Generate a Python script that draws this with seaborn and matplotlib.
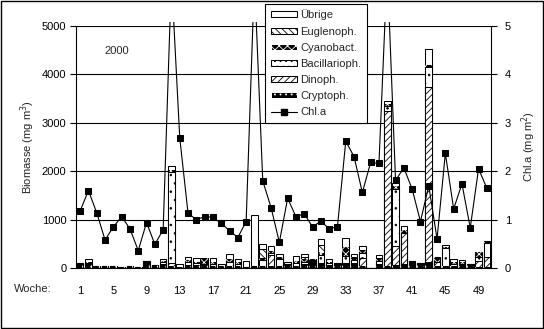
import numpy as np
import pandas as pd
import matplotlib
matplotlib.use("Agg")
import matplotlib.pyplot as plt
import seaborn as sns
from matplotlib.patches import Rectangle, Patch
from matplotlib.lines import Line2D

weeks = list(range(1, 51))
tick_weeks = [1, 5, 9, 13, 17, 21, 25, 29, 33, 37, 41, 45, 49]

crypto = [110, 110, 40, 35, 40, 15, 40, 30, 145, 70,
          80, 40, 25, 70, 60, 80, 50, 45, 50, 50,
          20, 40, 50, 40, 50, 60, 40, 90, 170, 100,
          60, 110, 100, 95, 40, 0, 60, 50, 60, 80,
          145, 95, 130, 40, 40, 50, 60, 85, 30, 25]
dino = [0, 0, 0, 0, 0, 0, 0, 0, 0, 0,
        0, 60, 0, 0, 0, 0, 0, 0, 0, 0,
        0, 0, 0, 220, 0, 0, 0, 0, 0, 0,
        0, 0, 0, 0, 170, 0, 30, 3200, 400, 640,
        0, 0, 3600, 80, 0, 0, 0, 0, 120, 210]
bacil = [0, 0, 0, 0, 0, 0, 0, 0, 0, 0,
         40, 1880, 0, 50, 40, 0, 40, 0, 80, 40,
         0, 0, 110, 60, 140, 20, 70, 40, 0, 170,
         40, 0, 140, 80, 100, 0, 60, 100, 1170, 0,
         0, 0, 420, 0, 370, 40, 30, 0, 80, 280]
cyano = [0, 20, 0, 0, 0, 0, 0, 0, 0, 0,
         20, 35, 0, 40, 30, 135, 40, 0, 50, 30,
         0, 0, 40, 40, 40, 0, 40, 60, 10, 30,
         30, 0, 200, 50, 60, 0, 50, 40, 60, 70,
         0, 0, 40, 110, 20, 40, 30, 0, 110, 15]
eugl = [0, 0, 0, 0, 0, 0, 0, 0, 0, 0,
        0, 0, 0, 0, 0, 0, 0, 0, 0, 0,
        0, 0, 200, 0, 0, 0, 0, 30, 0, 180,
        0, 0, 0, 0, 0, 0, 0, 0, 0, 0,
        0, 0, 0, 0, 0, 0, 0, 0, 0, 0]
uebrige = [0, 56, 0, 0, 0, 0, 0, 0, 0, 0,
           46, 100, 55, 75, 70, 0, 70, 30, 100, 60,
           125, 1060, 100, 95, 60, 50, 100, 63, 0, 110,
           50, 0, 175, 70, 80, 0, 70, 60, 70, 80,
           0, 0, 330, 0, 45, 50, 45, 0, 0, 30]
chla = [1.18, 1.60, 1.14, 0.58, 0.85, 1.06, 0.81, 0.36, 0.94, 0.49,
        0.79, 6.0, 2.69, 1.13, 1.00, 1.06, 1.05, 0.92, 0.77, 0.63,
        0.96, 6.0, 1.80, 1.25, 0.53, 1.44, 1.06, 1.12, 0.85, 0.97,
        0.81, 0.85, 2.62, 2.30, 1.56, 2.18, 2.16, 6.2, 1.81, 2.07,
        1.63, 0.96, 1.70, 0.60, 2.37, 1.22, 1.74, 0.83, 2.05, 1.65]

series_names = ["Cryptoph.", "Dinoph.", "Bacillarioph.", "Cyanobact.", "Euglenoph.", "Übrige"]
series_vals = [crypto, dino, bacil, cyano, eugl, uebrige]
styles = {
    "Cryptoph.": dict(face="black", edge="white", hatch="..", lw=0, leg="..."),
    "Dinoph.": dict(face="white", edge="black", hatch="/////", lw=0.75, leg="/////"),
    "Bacillarioph.": dict(face="white", edge="black", hatch="..", lw=0.75, leg="..."),
    "Cyanobact.": dict(face="black", edge="white", hatch="xxxx", lw=0, leg="xxxx"),
    "Euglenoph.": dict(face="white", edge="black", hatch="\\\\\\\\\\", lw=0.75, leg="\\\\\\\\\\"),
    "Übrige": dict(face="white", edge="black", hatch="", lw=0.75, leg=""),
}

sns.set_theme(style="white")
plt.rcParams["font.family"] = ["Liberation Sans", "DejaVu Sans"]
plt.rcParams["font.size"] = 8
plt.rcParams["hatch.linewidth"] = 0.6

fig = plt.figure(figsize=(5.44, 3.29), dpi=100)
ax = fig.add_axes([76 / 544, 61 / 329, 415 / 544, 242 / 329])

df = pd.DataFrame({"week": weeks})
cum = np.zeros(len(weeks))
cums = []
for vals in series_vals:
    cum = cum + np.array(vals, dtype=float)
    cums.append(cum.copy())

# draw from top layer (total) down so lower layers overlay
for name, c in reversed(list(zip(series_names, cums))):
    st = styles[name]
    d = df.copy()
    d["val"] = c
    sns.barplot(data=d, x="week", y="val", ax=ax, color=st["face"], saturation=1,
                edgecolor=st["edge"], linewidth=st["lw"], hatch=st["hatch"] or None,
                width=0.8, errorbar=None)

ax.set_xlim(-0.5, len(weeks) - 0.5)
ax.set_ylim(0, 5000)
ax.set_yticks([0, 1000, 2000, 3000, 4000, 5000])
ax.set_yticklabels(["0", "1000", "2000", "3000", "4000", "5000"])
ax.set_xticks([weeks.index(w) for w in tick_weeks])
ax.set_xticklabels([str(w) for w in tick_weeks])
ax.tick_params(axis="x", length=0, pad=13, labelsize=8, colors="black")
ax.tick_params(axis="y", length=4, width=0.8, direction="out", pad=3, labelsize=8,
               colors="black", left=True)
ax.set_axisbelow(True)
ax.yaxis.grid(True, color="black", linewidth=0.8)
ax.xaxis.grid(False)
ax.set_xlabel("")
ax.set_ylabel("Biomasse (mg m$^3$)", fontsize=8, labelpad=3)
for s in ["left", "bottom"]:
    ax.spines[s].set_visible(True)
    ax.spines[s].set_color("black")
    ax.spines[s].set_linewidth(0.8)
ax.spines["top"].set_visible(False)
ax.spines["right"].set_visible(False)

ax2 = ax.twinx()
sns.lineplot(x=np.arange(len(weeks)), y=chla, ax=ax2, color="black", linewidth=0.8,
             marker="s", markersize=4.5, markeredgecolor="black", markerfacecolor="black")
line = ax2.lines[0]
line.set_clip_box(None)
line.set_clip_path(Rectangle((0, 0), 1, 1.018, transform=ax2.transAxes))
ax2.set_ylim(0, 5)
ax2.set_yticks([0, 1, 2, 3, 4, 5])
ax2.set_yticklabels(["0", "1", "2", "3", "4", "5"])
ax2.tick_params(axis="y", length=4, width=0.8, direction="out", pad=6, labelsize=8,
                colors="black", right=True)
ax2.set_ylabel("Chl.a (mg m$^2$)", fontsize=8, labelpad=6, rotation=90)
ax2.yaxis.set_label_position("right")
ax2.set_xlim(-0.5, len(weeks) - 0.5)
ax2.grid(False)
for s in ["left", "top", "bottom"]:
    ax2.spines[s].set_visible(False)
ax2.spines["right"].set_visible(True)
ax2.spines["right"].set_color("black")
ax2.spines["right"].set_linewidth(0.8)

ax.text((117 - 76) / 415, 1 - (51 - 26) / 242, "2000", transform=ax.transAxes,
        ha="center", va="center", fontsize=8)
fig.text(14 / 544, 1 - 289 / 329, "Woche:", ha="left", va="center", fontsize=8)

handles = []
for name in reversed(series_names):
    st = styles[name]
    handles.append(Patch(facecolor=st["face"], edgecolor=st["edge"], hatch=st["leg"] or None,
                         linewidth=0.75 if st["lw"] == 0 else st["lw"], label=name))
handles.append(Line2D([], [], color="black", lw=0.8, marker="s", markersize=4.5, label="Chl.a"))
leg = fig.legend(handles=handles, loc="upper left", bbox_to_anchor=(265 / 544, 1 - 4 / 329),
                 frameon=True, fancybox=False, edgecolor="black", framealpha=1,
                 fontsize=8, handlelength=2.4, handleheight=0.45, handletextpad=0.3,
                 labelspacing=0.55, borderpad=0.5, borderaxespad=0)
leg.get_frame().set_linewidth(0.8)
leg.set_zorder(10)

fig.patches.append(Rectangle((0.001, 0.002), 0.997, 0.995, transform=fig.transFigure,
                             fill=False, edgecolor="black", linewidth=1))

fig.savefig("out.png", dpi=100, facecolor="white")
